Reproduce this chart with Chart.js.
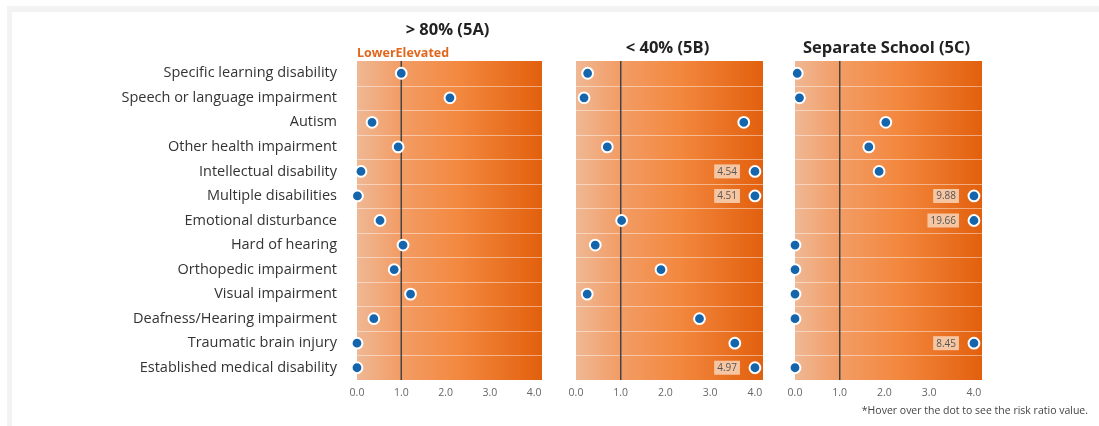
<!DOCTYPE html>
<html>
<head>
<meta charset="utf-8">
<script src="https://cdn.jsdelivr.net/npm/chart.js@4.4.1/dist/chart.umd.min.js"></script>
<style>
  html, body { margin: 0; padding: 0; background: #ffffff; }
  body { width: 1099px; height: 426px; position: relative; overflow: hidden; font-family: "Open Sans", "Noto Sans", sans-serif; }
  .frame { position: absolute; left: 7px; top: 6px; right: 0; bottom: 0; border-left: 5px solid #f3f3f3; border-top: 6px solid #f3f3f3; }
  canvas { position: absolute; top: 0; }
  #note { position: absolute; right: 11px; top: 403px; font-size: 10.5px; color: #444; white-space: nowrap; }
</style>
</head>
<body>
<div class="frame"></div>
<canvas id="c80"></canvas>
<canvas id="c40"></canvas>
<canvas id="cSep"></canvas>
<div id="note">*Hover over the dot to see the risk ratio value.</div>
<script>
// Disability categories, top to bottom
const categories = [
  'Specific learning disability',
  'Speech or language impairment',
  'Autism',
  'Other health impairment',
  'Intellectual disability',
  'Multiple disabilities',
  'Emotional disturbance',
  'Hard of hearing',
  'Orthopedic impairment',
  'Visual impairment',
  'Deafness/Hearing impairment',
  'Traumatic brain injury',
  'Established medical disability'
];

// Risk ratios per educational environment
const ratio80 = [1.00, 2.10, 0.34, 0.93, 0.09, 0.01, 0.52, 1.04, 0.84, 1.21, 0.38, 0.00, 0.00];
const ratio40 = [0.26, 0.18, 3.75, 0.70, 4.54, 4.51, 1.02, 0.43, 1.90, 0.25, 2.76, 3.55, 4.97];
const ratioSep = [0.05, 0.10, 2.03, 1.65, 1.88, 9.88, 19.66, 0.00, 0.00, 0.00, 0.00, 8.45, 0.00];

const panelTitles = ['> 80% (5A)', '< 40% (5B)', 'Separate School (5C)'];
const legendWords = ['Lower', 'Elevated'];
const xTicks = [0, 1, 2, 3, 4];
const axisCap = 4;     // ratios above this are pinned to the edge and labelled
const refRatio = 1;    // parity line

const FONT = '"Open Sans", "Noto Sans", sans-serif';

// Orange gradient band, row separators and parity line
const panelBackground = {
  id: 'panelBackground',
  beforeDatasetsDraw(chart) {
    const { ctx, chartArea: a, scales } = chart;
    ctx.save();
    const g = ctx.createLinearGradient(a.left, 0, a.right, 0);
    g.addColorStop(0, '#efb894');
    g.addColorStop(0.22, '#f29e68');
    g.addColorStop(0.55, '#f3883f');
    g.addColorStop(1, '#e2600d');
    ctx.fillStyle = g;
    ctx.fillRect(a.left, a.top, a.right - a.left, a.bottom - a.top);

    const rowH = (a.bottom - a.top) / categories.length;
    ctx.strokeStyle = 'rgba(255,255,255,0.45)';
    ctx.lineWidth = 1;
    for (let i = 1; i < categories.length; i++) {
      const y = Math.round(a.top + rowH * i) + 0.5;
      ctx.beginPath();
      ctx.moveTo(a.left, y);
      ctx.lineTo(a.right, y);
      ctx.stroke();
    }

    const xr = scales.x.getPixelForValue(refRatio);
    ctx.strokeStyle = '#444444';
    ctx.lineWidth = 1.5;
    ctx.beginPath();
    ctx.moveTo(xr, a.top);
    ctx.lineTo(xr, a.bottom);
    ctx.stroke();
    ctx.restore();
  }
};

// Panel heading (and the Lower/Elevated key on the first panel)
const panelHeading = {
  id: 'panelHeading',
  afterDraw(chart, args, opts) {
    const { ctx, chartArea: a } = chart;
    ctx.save();
    ctx.font = 'bold 16.5px ' + FONT;
    ctx.fillStyle = '#222222';
    ctx.textAlign = 'center';
    ctx.textBaseline = 'middle';
    ctx.fillText(opts.text, (a.left + a.right) / 2 - 2, opts.y);
    if (opts.key) {
      ctx.font = 'bold 12.5px ' + FONT;
      ctx.fillStyle = '#e2661c';
      ctx.textAlign = 'left';
      let x = a.left;
      legendWords.forEach(w => {
        ctx.fillText(w, x, a.top - 8);
        x += ctx.measureText(w).width;
      });
    }
    ctx.restore();
  }
};

// Value boxes for ratios beyond the axis cap
const capLabels = {
  id: 'capLabels',
  afterDatasetsDraw(chart) {
    const { ctx } = chart;
    const meta = chart.getDatasetMeta(0);
    const ds = chart.data.datasets[0];
    ctx.save();
    ctx.font = '10px ' + FONT;
    ctx.textBaseline = 'middle';
    ctx.textAlign = 'center';
    meta.data.forEach((pt, i) => {
      const v = ds.data[i].raw;
      if (v <= axisCap) return;
      const txt = v.toFixed(2);
      const w = ctx.measureText(txt).width + 6;
      const h = 14;
      const right = pt.x - 15;
      ctx.fillStyle = '#f6c6a2';
      ctx.fillRect(right - w, pt.y - h / 2, w, h);
      ctx.fillStyle = '#555555';
      ctx.fillText(txt, right - w / 2, pt.y + 0.5);
    });
    ctx.restore();
  }
};

function makePanel(id, left, width, values, idx, showCategories) {
  const el = document.getElementById(id);
  el.style.left = left + 'px';
  el.width = width;
  el.height = 426;
  el.style.width = width + 'px';
  el.style.height = '426px';
  const points = values.map((v, i) => ({ x: Math.min(v, axisCap), y: categories[i], raw: v }));
  return new Chart(el, {
    type: 'scatter',
    data: {
      datasets: [{
        data: points,
        backgroundColor: '#1565ad',
        borderColor: '#ffffff',
        borderWidth: 2,
        pointRadius: 5.4,
        pointHoverRadius: 5.4,
        clip: false
      }]
    },
    options: {
      responsive: false,
      animation: false,
      layout: { padding: { left: showCategories ? 0 : 16, right: 10, top: 61, bottom: 16 } },
      scales: {
        x: {
          type: 'linear',
          min: 0,
          max: 4.18,
          afterBuildTicks: s => { s.ticks = xTicks.map(v => ({ value: v })); },
          afterFit: s => { s.height = 30; },
          grid: { display: false, drawTicks: false },
          border: { display: false },
          ticks: {
            padding: 7,
            color: '#666666',
            font: { family: FONT, size: 10.5 },
            callback: v => Number(v).toFixed(1)
          }
        },
        y: {
          type: 'category',
          labels: categories,
          offset: true,
          display: showCategories,
          afterFit: s => { if (showCategories) s.width = 357; },
          grid: { display: false, drawTicks: false },
          border: { display: false },
          ticks: {
            padding: 20,
            color: '#333333',
            font: { family: FONT, size: 14.5 },
            autoSkip: false
          }
        }
      },
      plugins: {
        legend: { display: false },
        tooltip: { enabled: false },
        panelHeading: { text: panelTitles[idx], y: idx === 0 ? 30 : 48, key: idx === 0 }
      }
    },
    plugins: [panelBackground, panelHeading, capLabels]
  });
}

makePanel('c80', 0, 552, ratio80, 0, true);
makePanel('c40', 560, 213, ratio40, 1, false);
makePanel('cSep', 779, 213, ratioSep, 2, false);
</script>
</body>
</html>
